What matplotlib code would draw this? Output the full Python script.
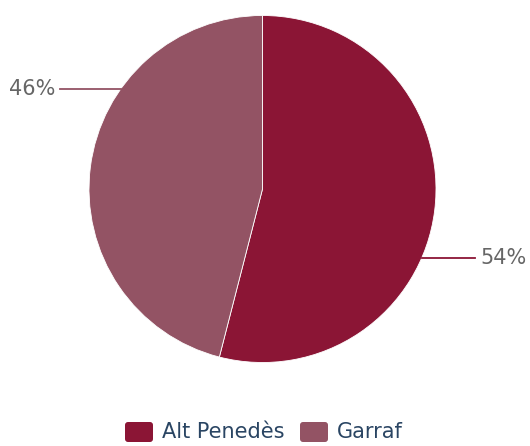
import matplotlib.pyplot as plt
import numpy as np
from matplotlib.patches import FancyBboxPatch

categories = ["Alt Penedès", "Garraf"]
shares = [54, 46]
colors = ["#8b1535", "#935364"]
label_heights = [258, 89]  # pixel rows (from top) of the outside labels

W, H = 530, 446
fig = plt.figure(figsize=(W / 100, H / 100), dpi=100)
ax = fig.add_axes([0, 0, 1, 1])

cx, cy, r = 262.5, H - 189, 173.5
ax.pie(shares, colors=colors, startangle=90, counterclock=False,
       center=(cx, cy), radius=r, frame=True,
       wedgeprops=dict(edgecolor="white", linewidth=0.6))
ax.set_xlim(0, W)
ax.set_ylim(0, H)
ax.axis("off")

for i, (v, c, hy) in enumerate(zip(shares, colors, label_heights)):
    y = H - hy
    dx = np.sqrt(r ** 2 - (y - cy) ** 2)
    if i == 0:
        x0, x1 = cx + dx, cx + dx + 53
        ax.plot([x0, x1], [y, y], color=c, lw=1.3)
        ax.text(x1 + 6, y, f"{v}%", ha="left", va="center",
                fontsize=15, color="#666666")
    else:
        x0, x1 = cx - dx, cx - dx - 61
        ax.plot([x0, x1], [y, y], color=c, lw=1.3)
        ax.text(x1 - 4, y, f"{v}%", ha="right", va="center",
                fontsize=15, color="#666666")

# legend
lx = [125, 300]
for x, c, name in zip(lx, colors, categories):
    box = FancyBboxPatch((x + 3, H - 442 + 3), 22, 14,
                         boxstyle="round,pad=3", fc=c, ec="none")
    ax.add_patch(box)
    ax.text(x + 37, H - 432, name, ha="left", va="center",
            fontsize=15, color="#2a4563")

fig.savefig("out.png", dpi=100)
